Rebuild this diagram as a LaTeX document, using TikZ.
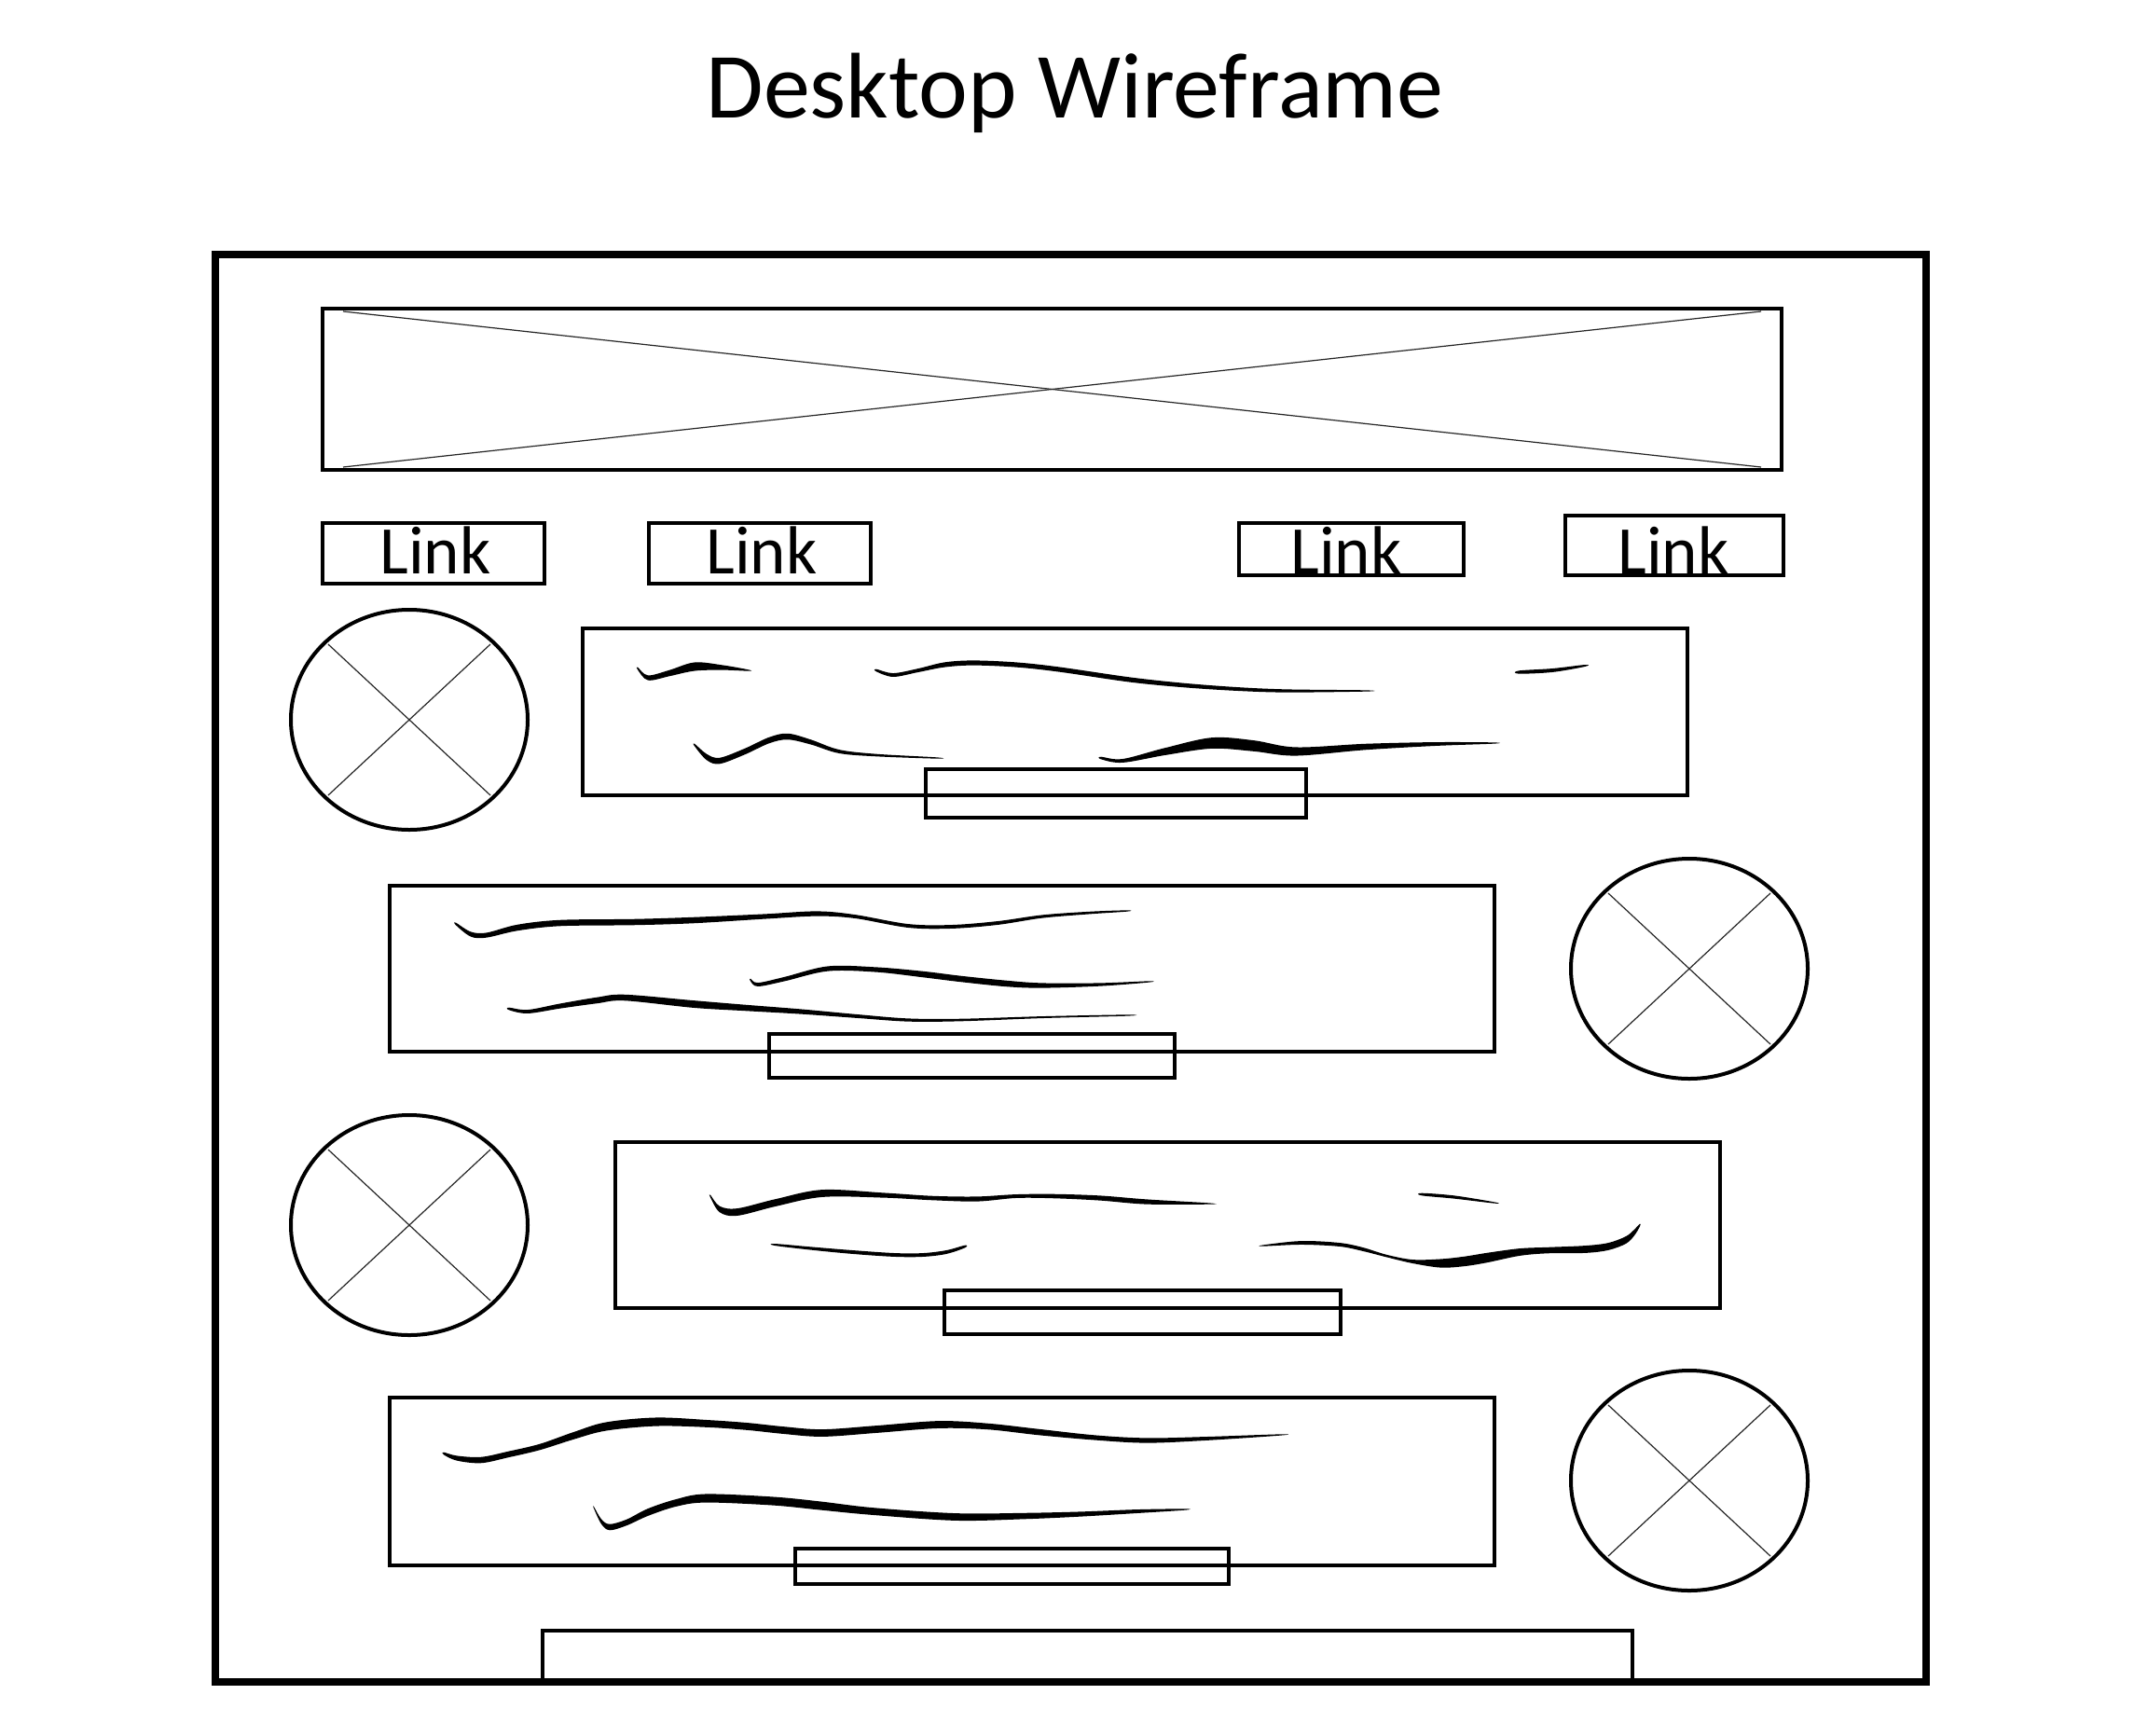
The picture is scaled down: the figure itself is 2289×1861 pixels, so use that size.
\documentclass[tikz,border=0pt]{standalone}
\usepackage{fontspec}
\setmainfont{Carlito}
\newcommand\brushstroke[1]{%
  \gdef\bstop{}\gdef\bsbot{}%
  \foreach \px/\py/\pw in {#1}{%
    \pgfmathsetmacro\bya{\py-0.65*\pw}%
    \pgfmathsetmacro\byb{\py+0.65*\pw}%
    \xdef\bstop{\bstop (\px,\bya)}%
    \xdef\bsbot{(\px,\byb) \bsbot}%
  }%
  \edef\bstemp{\noexpand\fill[black] plot[smooth cycle, tension=0.55] coordinates {\bstop\space\bsbot};}%
  \bstemp
}
\begin{document}
\begin{tikzpicture}[x=1pt,y=-1pt,
  framebox/.style={line width=7.5pt},
  wbox/.style={line width=4pt},
  xline/.style={line width=1.2pt, black!85},
  linktext/.style={anchor=base, font=\fontsize{73}{80}\selectfont, inner sep=0pt},
  titletext/.style={anchor=base, font=\fontsize{100}{110}\selectfont, inner sep=0pt}]
\useasboundingbox[fill=white] (0,0) rectangle (2289,1861);

% title
\node[titletext] (title) at (1153,126) {Desktop Wireframe};

% outer frame
\draw[framebox] (231,273) rectangle (2066,1804);

% banner with X
\draw[wbox] (346,331) rectangle (1911,504);
\draw[xline] (368,334) -- (1889,501);
\draw[xline] (368,501) -- (1889,334);

% links
\draw[wbox] (346,561) rectangle (584,626);
\draw[wbox] (696,561) rectangle (934,626);
\draw[wbox] (1329,561) rectangle (1570,617);
\draw[wbox] (1679,553) rectangle (1913,617);
\node[linktext] (l1) at (467,615) {Link};
\node[linktext] (l2) at (817,615) {Link};
\node[linktext] (l3) at (1444,615) {Link};
\node[linktext] (l4) at (1795,615) {Link};

% image circles
\foreach \cx/\cy in {439/772, 1812/1039, 439/1314, 1812/1588}{
  \draw[wbox] (\cx,\cy) ellipse [x radius=127pt, y radius=118pt];
  \draw[xline] (\cx,\cy) ++(-87,-81) -- ++(174,162);
  \draw[xline] (\cx,\cy) ++(87,-81) -- ++(-174,162);
}

% content boxes and buttons
\draw[wbox] (625,674) rectangle (1810,853);
\draw[wbox] (993,825) rectangle (1401,877);
\draw[wbox] (418,950) rectangle (1603,1128);
\draw[wbox] (825,1109) rectangle (1260,1156);
\draw[wbox] (660,1225) rectangle (1845,1403);
\draw[wbox] (1013,1384) rectangle (1438,1431);
\draw[wbox] (418,1499) rectangle (1603,1679);
\draw[wbox] (853,1661) rectangle (1318,1699);

% footer
\draw[wbox] (582,1749) rectangle (1751,1804);

% squiggles box 1
\brushstroke{684/717/2, 695/727/4, 718/722/5, 745/715/7, 775/716/4, 803/719/1}
\brushstroke{940/719/2, 958/724/3, 985/719/3, 1013/713/4, 1044/711/4, 1090/713/4, 1136/718/4, 1212/729/4, 1270/735/3.5, 1327/739/3, 1380/741/2.5, 1465/741/1}
\brushstroke{1629/721/2.5, 1665/719/3, 1700/714/1.5}
\brushstroke{745/799/2, 758/812/5, 772/816/5, 799/806/5, 825/794/5, 845/790/5, 870/796/4, 900/806/3, 940/810/2, 1005/813/1}
\brushstroke{1181/813/2, 1204/816/3, 1250/806/6, 1300/797/9, 1345/800/9, 1390/806/7, 1465/801/5, 1540/798/3, 1602/797/1}

% squiggles box 2
\brushstroke{489/991/2, 505/1002/4, 522/1003/4, 555/995/5, 601/990/5, 680/989/5, 744/987/5, 820/983/4, 876/980/4, 917/983/3, 974/993/3, 1020/994/3, 1070/990/3, 1118/983/2.5, 1170/979/2, 1209/977/1}
\brushstroke{805/1051/2, 813/1056/3, 842/1050/3.5, 888/1039/4, 940/1040/4, 990/1045/5, 1031/1050/5, 1080/1055/5, 1118/1057/4, 1180/1056/2.5, 1232/1053/1}
\brushstroke{546/1082/2, 566/1085/3, 601/1079/4, 640/1073/5, 670/1070/5, 744/1077/6, 800/1081/5, 859/1085/4, 920/1090/3, 974/1094/2.5, 1031/1094/2, 1120/1091/1.5, 1209/1089/1}

% squiggles box 3
\brushstroke{762/1283/2, 772/1297/5, 791/1300/6, 832/1290/6, 882/1280/6, 948/1282/4, 1000/1285/3.5, 1048/1286/4, 1090/1283/3, 1131/1283/3.5, 1180/1285/4, 1230/1289/4, 1297/1291/1}
\brushstroke{1525/1281/2, 1560/1284/2.5, 1603/1290/1}
\brushstroke{831/1335/1.5, 870/1339/2.5, 915/1343/3, 960/1346/3, 990/1346/3, 1015/1343/3, 1035/1337/2}
\brushstroke{1355/1336/1, 1396/1333/3, 1437/1335/3, 1462/1340/3, 1487/1347/2, 1515/1353/3, 1545/1355/7, 1570/1353/8, 1595/1349/8, 1630/1343/6, 1661/1341/5, 1700/1340/6, 1725/1337/6, 1744/1330/6, 1753/1322/5, 1759/1314/2}

% squiggles box 4
\brushstroke{476/1559/2, 490/1564/4, 516/1566/5, 545/1560/5, 579/1552/5, 615/1540/6, 650/1530/7, 704/1525/7, 760/1527/6, 802/1530/6, 840/1534/6, 882/1537/6, 940/1533/6, 1007/1528/6, 1060/1530/5, 1114/1536/5, 1175/1542/4, 1230/1545/4, 1293/1543/3, 1373/1539/1}
\brushstroke{637/1617/1.5, 645/1632/4, 654/1638/5, 672/1633/5, 695/1622/6, 725/1612/6, 757/1607/7, 829/1610/7, 880/1615/7, 936/1621/6, 1025/1627/6, 1100/1626/5, 1159/1624/4, 1220/1621/3, 1271/1619/1}
\end{tikzpicture}
\end{document}
